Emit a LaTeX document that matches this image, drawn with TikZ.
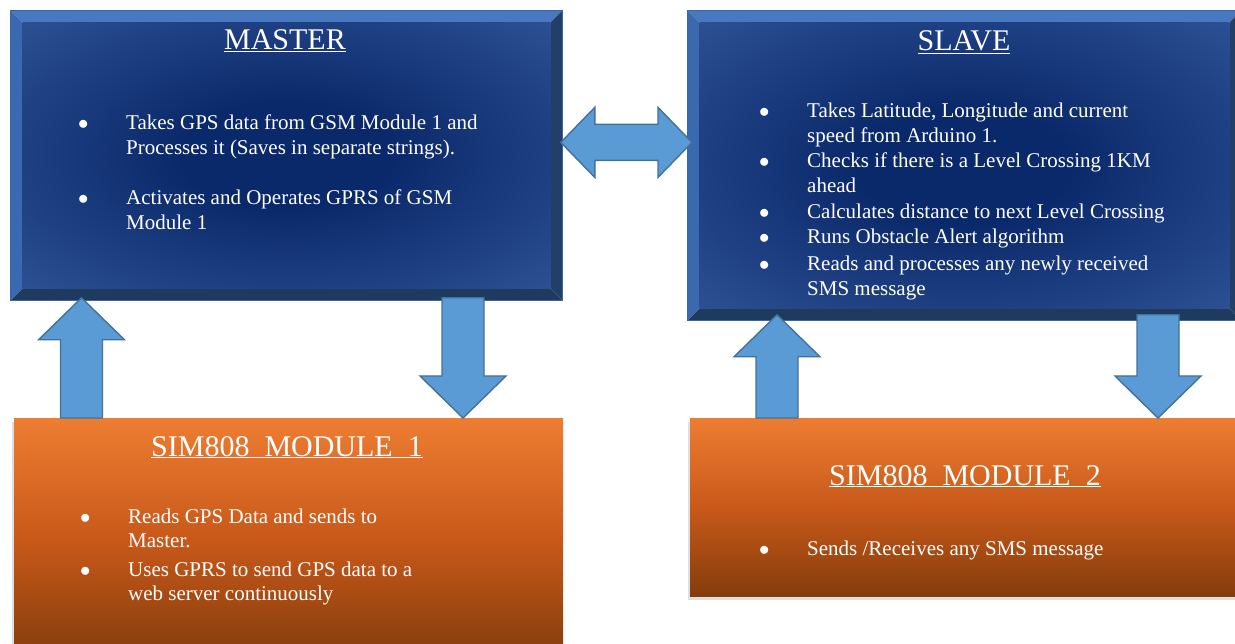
\documentclass[tikz,border=0pt]{standalone}
\usepackage{fontspec}
\setmainfont{Liberation Serif}
\usetikzlibrary{calc,shadows}

\definecolor{bvtop}{HTML}{4878C0}
\definecolor{bvleft}{HTML}{3B69B0}
\definecolor{bvbot}{HTML}{1F3A5F}
\definecolor{bvright}{HTML}{223F68}
\definecolor{bvedge}{HTML}{3767A6}
\definecolor{navyin}{HTML}{0A296A}
\definecolor{navyout}{HTML}{2D5194}
\definecolor{arrblue}{HTML}{5B9BD5}
\definecolor{arredge}{HTML}{41719C}
\definecolor{orangetop}{HTML}{ED7D31}
\definecolor{orangemid}{HTML}{C9591A}
\definecolor{orangebot}{HTML}{843C0C}

\pgfdeclareradialshading{navyglow}{\pgfpointorigin}{color(0bp)=(navyin); color(10bp)=(navyin); color(36bp)=(navyout); color(50bp)=(navyout)}

\newcommand{\bitem}[1]{\makebox[48pt][l]{$\bullet$}\begin{tabular}[t]{@{}l@{}}#1\end{tabular}}

\newcommand{\vblock}[2]{%
  \draw[blockarr] let \p1=(#1), \p2=(#2), \n1={sign(\y2-\y1)} in
    ({\x1-21pt},\y1) -- ({\x1-21pt},{\y2-(\n1)*42pt}) -- ({\x1-43pt},{\y2-(\n1)*42pt}) -- (\x1,\y2)
    -- ({\x1+43pt},{\y2-(\n1)*42pt}) -- ({\x1+21pt},{\y2-(\n1)*42pt}) -- ({\x1+21pt},\y1) -- cycle;}

\tikzset{
  bevelbox/.style={inner sep=0pt, draw=bvedge, line width=0.8pt,
    path picture={
      \fill[bvtop] (path picture bounding box.north west) -- (path picture bounding box.north east)
        -- ([shift={(-12pt,-12pt)}]path picture bounding box.north east)
        -- ([shift={(12pt,-12pt)}]path picture bounding box.north west) -- cycle;
      \fill[bvbot] (path picture bounding box.south west) -- (path picture bounding box.south east)
        -- ([shift={(-12pt,12pt)}]path picture bounding box.south east)
        -- ([shift={(12pt,12pt)}]path picture bounding box.south west) -- cycle;
      \fill[bvleft] (path picture bounding box.north west) -- (path picture bounding box.south west)
        -- ([shift={(12pt,12pt)}]path picture bounding box.south west)
        -- ([shift={(12pt,-12pt)}]path picture bounding box.north west) -- cycle;
      \fill[bvright] (path picture bounding box.north east) -- (path picture bounding box.south east)
        -- ([shift={(-12pt,12pt)}]path picture bounding box.south east)
        -- ([shift={(-12pt,-12pt)}]path picture bounding box.north east) -- cycle;
      \shade[shading=navyglow] ([shift={(12pt,12pt)}]path picture bounding box.south west)
        rectangle ([shift={(-12pt,-12pt)}]path picture bounding box.north east);
    }},
  orangebox/.style={inner sep=0pt, top color=orangetop, bottom color=orangebot, middle color=orangemid,
    drop shadow={shadow xshift=-2pt, shadow yshift=-4pt, opacity=.25}},
  blockarr/.style={fill=arrblue, draw=arredge, line width=1.4pt, line join=miter},
  ttl/.style={text=white, font=\fontsize{30}{36}\selectfont, inner sep=0pt, anchor=base},
  itm/.style={text=white, font=\fontsize{21}{24.5}\selectfont, inner sep=0pt, anchor=base west},
}

\begin{document}
\begin{tikzpicture}[x=1pt, y=-1pt]
\fill[white] (0,0) rectangle (1235,644);
\useasboundingbox (0,0) rectangle (1235,644);

\node[bevelbox, anchor=north west, minimum width=552pt, minimum height=290pt] (master) at (10,10) {};
\node[bevelbox, anchor=north west, minimum width=554pt, minimum height=310pt] (slave) at (687,10) {};
\node[orangebox, anchor=north west, minimum width=549pt, minimum height=240pt] (sim1) at (14,418) {};
\node[orangebox, anchor=north west, minimum width=550pt, minimum height=178pt] (sim2) at (690,418) {};

\coordinate (upA) at ([shift={(71.5pt,3pt)}]master.south west);
\coordinate (dnA) at ([shift={(453pt,3pt)}]master.south west);
\coordinate (upB) at ([shift={(90pt,6pt)}]slave.south west);
\coordinate (dnB) at ([shift={(471pt,6pt)}]slave.south west);
\coordinate (dl) at ([shift={(-2pt,13pt)}]master.east);
\coordinate (dr) at ([xshift=5pt]slave.west |- dl);

\vblock{upA |- sim1.north}{upA}
\vblock{dnA}{dnA |- sim1.north}
\vblock{upB |- sim2.north}{upB}
\vblock{dnB}{dnB |- sim2.north}
\draw[blockarr] let \p1=(dl), \p2=(dr) in
  (\p1) -- ({\x1+34pt},{\y1+35pt}) -- ({\x1+34pt},{\y1+18pt}) -- ({\x2-34pt},{\y1+18pt})
  -- ({\x2-34pt},{\y1+35pt}) -- (\p2) -- ({\x2-34pt},{\y1-35pt}) -- ({\x2-34pt},{\y1-18pt})
  -- ({\x1+34pt},{\y1-18pt}) -- ({\x1+34pt},{\y1-35pt}) -- cycle;

\node[ttl] (mtitle) at (285,50) {\underline{MASTER}};
\node[itm] (m1) at (78,130) {\bitem{Takes GPS data from GSM Module 1 and\\Processes it (Saves in separate strings).}};
\node[itm] (m2) at (78,205) {\bitem{Activates and Operates GPRS of GSM\\Module 1}};

\node[ttl] (stitle) at (964,51) {\underline{SLAVE}};
\node[itm] (s1) at (759,118) {\bitem{Takes Latitude, Longitude and current\\speed from Arduino 1.}};
\node[itm] (s2) at (759,168) {\bitem{Checks if there is a Level Crossing 1KM\\ahead}};
\node[itm] (s3) at (759,219) {\bitem{Calculates distance to next Level Crossing}};
\node[itm] (s4) at (759,244) {\bitem{Runs Obstacle Alert algorithm}};
\node[itm] (s5) at (759,271) {\bitem{Reads and processes any newly received\\SMS message}};

\node[ttl] (atitle) at (287,456) {\underline{SIM808~ MODULE~ 1}};
\node[itm] (a1) at (80,523) {\bitem{Reads GPS Data and sends to\\Master.}};
\node[itm] (a2) at (80,576) {\bitem{Uses GPRS to send GPS data to a\\web server continuously}};

\node[ttl] (btitle) at (965,485) {\underline{SIM808~ MODULE~ 2}};
\node[itm] (b1) at (759,555) {\bitem{Sends /Receives any SMS message}};
\end{tikzpicture}
\end{document}
